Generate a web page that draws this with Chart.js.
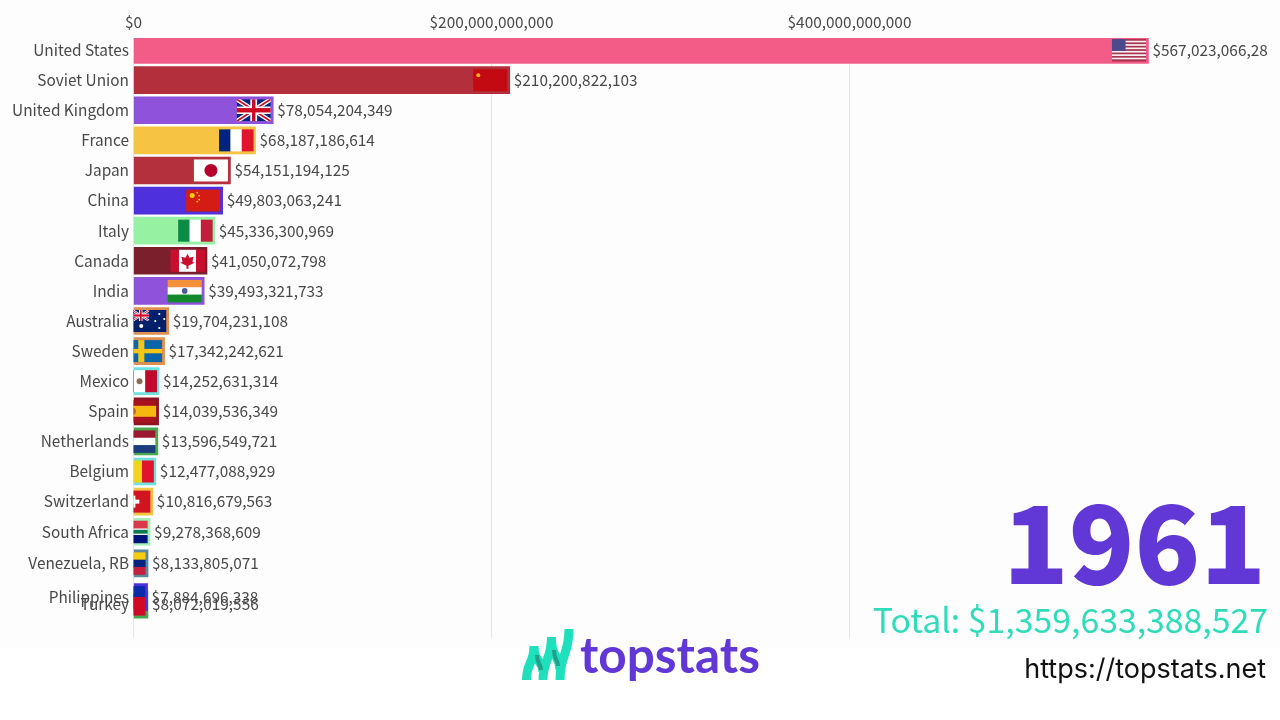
<!DOCTYPE html>
<html>
<head>
<meta charset="utf-8">
<title>GDP by country, 1961</title>
<script src="https://cdn.jsdelivr.net/npm/chart.js@4"></script>
<style>
  html, body { margin: 0; padding: 0; background: #fff; }
  #stage { position: relative; width: 1280px; height: 720px; overflow: hidden; background: #fff; font-family: "Noto Sans CJK SC", sans-serif; }
  #plot-bg { position: absolute; left: 0; top: 0; width: 1280px; height: 648px; background: #fdfdfd; }
  #chart { position: absolute; left: 0; top: 0; }
  #year { position: absolute; right: 14px; top: 467px; font-size: 108px; line-height: 140px; font-weight: 900; color: #6137d6; }
  #total { position: absolute; right: 12px; top: 592px; font-size: 33.8px; line-height: 54px; font-weight: 400; color: #2fdcb9; white-space: nowrap; }
  #brand { position: absolute; left: 580px; top: 622px; font-family: Lato, sans-serif; font-size: 49.5px; line-height: 64px; font-weight: 700; color: #6137d6; }
  #url { position: absolute; right: 14px; top: 652px; font-family: Inter, sans-serif; font-size: 27px; line-height: 34px; color: #111; white-space: nowrap; }
  #mark { position: absolute; left: 0; top: 0; }
</style>
</head>
<body>
<div id="stage">
  <div id="plot-bg"></div>
  <canvas id="chart" width="1280" height="648"></canvas>
  <div id="year">1961</div>
  <div id="total">Total: $1,359,633,388,527</div>
  <svg id="mark" width="1280" height="720" fill="none">
    <path d="M526.5 680C526.5 662 534 664 534 646" stroke="#1fe0bd" stroke-width="9"/>
    <path d="M543 680C543 660 551.5 660 551.5 637" stroke="#1fe0bd" stroke-width="9"/>
    <path d="M560 680C560 655 569 655 569 629" stroke="#1fe0bd" stroke-width="9"/>
    <path d="M534 648C534 662 543 660 543 672" stroke="#1fe0bd" stroke-width="9"/>
    <path d="M551.5 640C551.5 658 560 655 560 670" stroke="#1fe0bd" stroke-width="9"/>
    <path d="M537 655C537 664 541 664 541 670" stroke="#1f9f8c" stroke-width="4"/>
    <path d="M554 650C554 660 558 660 558 666" stroke="#1f9f8c" stroke-width="4"/>
  </svg>
  <div id="brand">topstats</div>
  <div id="url">https://topstats.net</div>
</div>

<script>
// ── Data ─────────────────────────────────────────────────
const countries = ['United States', 'Soviet Union', 'United Kingdom', 'France', 'Japan', 'China', 'Italy', 'Canada', 'India', 'Australia', 'Sweden', 'Mexico', 'Spain', 'Netherlands', 'Belgium', 'Switzerland', 'South Africa', 'Venezuela, RB', 'Turkey', 'Philippines'];
const gdpValues = [567023066280, 210200822103, 78054204349, 68187186614, 54151194125, 49803063241, 45336300969, 41050072798, 39493321733, 19704231108, 17342242621, 14252631314, 14039536349, 13596549721, 12477088929, 10816679563, 9278368609, 8133805071, 8072019556, 7884696338];
// Rank is fractional at the bottom: the race is caught mid swap
const ranks = [0, 1, 2, 3, 4, 5, 6, 7, 8, 9, 10, 11, 12, 13, 14, 15, 16, 17.05, 18.42, 18.17];
const barColors = ['#f25c87', '#b32f3b', '#8f52da', '#f6c343', '#b4303d', '#4e30dc', '#96f2a2', '#7b1f2c', '#8f52da', '#e08f50', '#e08f50', '#6fdfe0', '#8c1422', '#46a950', '#6fdfe0', '#f6c343', '#a2eeb4', '#5a8a9c', '#46a950', '#4e30dc'];
const xTickValues = [0, 200000000000, 400000000000];

const money = v => '$' + Math.round(v).toLocaleString('en-US');
const LABEL_FONT = '"Noto Sans CJK SC"', LABEL_SIZE = 15.4, LABEL_COLOR = '#484848';

// ── Flags ────────────────────────────────────────────────
const FLAG_W = 34, FLAG_H = 22, FLAG_INSET = 2.5;
const RED = '#cc0a22', BLUE = '#00247d', WHITE = '#fff';

function stripes(colors, vertical, weights) {
  return (c, x, y, w, h) => {
    const total = (weights || colors.map(() => 1)).reduce((a, b) => a + b, 0);
    let pos = 0;
    colors.forEach((col, i) => {
      const part = (weights ? weights[i] : 1) / total;
      c.fillStyle = col;
      if (vertical) c.fillRect(x + pos * w, y, part * w + 0.5, h);
      else c.fillRect(x, y + pos * h, w, part * h + 0.5);
      pos += part;
    });
  };
}

function union(c, x, y, w, h) {
  c.save();
  c.beginPath(); c.rect(x, y, w, h); c.clip();
  c.fillStyle = BLUE; c.fillRect(x, y, w, h);
  const lines = (col, lw) => {
    c.strokeStyle = col; c.lineWidth = lw;
    c.beginPath();
    c.moveTo(x, y); c.lineTo(x + w, y + h);
    c.moveTo(x + w, y); c.lineTo(x, y + h);
    c.stroke();
  };
  lines(WHITE, h * 0.2); lines(RED, h * 0.08);
  c.fillStyle = WHITE;
  c.fillRect(x + w * 0.4, y, w * 0.2, h); c.fillRect(x, y + h * 0.33, w, h * 0.34);
  c.fillStyle = RED;
  c.fillRect(x + w * 0.45, y, w * 0.1, h); c.fillRect(x, y + h * 0.4, w, h * 0.2);
  c.restore();
}

function dot(c, x, y, r, col) {
  c.fillStyle = col;
  c.beginPath(); c.arc(x, y, r, 0, Math.PI * 2); c.fill();
}

const flags = {
  'United States'(c, x, y, w, h) {
    stripes(Array.from({ length: 13 }, (_, i) => i % 2 ? '#f6f2f4' : '#a8324f'))(c, x, y, w, h);
    c.fillStyle = '#4a4a8c'; c.fillRect(x, y, w * 0.4, h * 0.54);
  },
  'Soviet Union'(c, x, y, w, h) {
    c.fillStyle = '#c30a12'; c.fillRect(x, y, w, h);
    dot(c, x + 5, y + 6, 2, '#f0b020');
  },
  'United Kingdom': union,
  France: stripes([BLUE, WHITE, '#e0142c'], true),
  Japan(c, x, y, w, h) {
    c.fillStyle = WHITE; c.fillRect(x, y, w, h);
    dot(c, x + w / 2, y + h / 2, 6.5, '#b4002c');
  },
  China(c, x, y, w, h) {
    c.fillStyle = '#d41c14'; c.fillRect(x, y, w, h);
    dot(c, x + 6, y + 6, 2.5, '#ffd000');
    [[11, 3], [13, 6], [13, 10], [11, 12]].forEach(p => dot(c, x + p[0], y + p[1], 0.9, '#ffd000'));
  },
  Italy: stripes(['#0a8c46', WHITE, '#c2203a'], true),
  Canada(c, x, y, w, h) {
    stripes(['#c8102e', WHITE, '#c8102e'], true, [1, 2, 1])(c, x, y, w, h);
    c.fillStyle = '#c8102e';
    c.beginPath();
    const cx = x + w / 2, cy = y + h / 2;
    [[0, -7], [2, -3], [6, -4], [5, 1], [7, 2], [1, 5], [1, 8], [-1, 8], [-1, 5], [-7, 2], [-5, 1], [-6, -4], [-2, -3]]
      .forEach((p, i) => i ? c.lineTo(cx + p[0], cy + p[1]) : c.moveTo(cx + p[0], cy + p[1]));
    c.closePath(); c.fill();
  },
  India(c, x, y, w, h) {
    stripes(['#f4913a', WHITE, '#138a2c'])(c, x, y, w, h);
    dot(c, x + w / 2, y + h / 2, 2.8, '#4a5aa0');
  },
  Australia(c, x, y, w, h) {
    c.fillStyle = '#00206c'; c.fillRect(x, y, w, h);
    union(c, x, y, w * 0.5, h * 0.5);
    dot(c, x + 9, y + 16, 2, WHITE);
    [[27, 4], [32, 9], [23, 11], [27, 18]].forEach(p => dot(c, x + p[0], y + p[1], 1.1, WHITE));
  },
  Sweden(c, x, y, w, h) {
    c.fillStyle = '#0a66a8'; c.fillRect(x, y, w, h);
    c.fillStyle = '#f5c518';
    c.fillRect(x + w * 0.3, y, w * 0.18, h); c.fillRect(x, y + h * 0.4, w, h * 0.2);
  },
  Mexico(c, x, y, w, h) {
    stripes(['#0a6a48', WHITE, '#c00a2c'], true)(c, x, y, w, h);
    dot(c, x + w / 2, y + h / 2, 3, '#8a7058');
  },
  Spain(c, x, y, w, h) {
    stripes(['#a8121e', '#f5b810', '#a8121e'], false, [1, 2, 1])(c, x, y, w, h);
    dot(c, x + w * 0.3, y + h / 2, 3.5, '#b06a20');
  },
  Netherlands: stripes(['#9c1a30', WHITE, '#1c3c80']),
  Belgium: stripes(['#111', '#f5d21c', '#e0142c'], true),
  Switzerland(c, x, y, w, h) {
    c.fillStyle = '#d01420'; c.fillRect(x, y, w, h);
    c.fillStyle = WHITE;
    c.fillRect(x + w / 2 - 6, y + h / 2 - 2, 12, 4);
    c.fillRect(x + w / 2 - 2, y + h / 2 - 6, 4, 12);
  },
  'South Africa': stripes(['#d8384a', WHITE, '#0a7a50', WHITE, '#00147c'], false, [6, 1, 3, 1, 6]),
  'Venezuela, RB': stripes(['#f5cc10', '#00247d', '#c4203e']),
  Turkey(c, x, y, w, h) {
    c.fillStyle = '#d00a24'; c.fillRect(x, y, w, h);
  },
  Philippines: stripes(['#0a2ca8', '#d00a24']),
};

// ── Plugins ──────────────────────────────────────────────
const barExtras = {
  id: 'barExtras',
  afterDatasetsDraw(chart) {
    const { ctx, chartArea } = chart;
    const bars = chart.getDatasetMeta(0).data;
    ctx.save();
    ctx.beginPath();
    ctx.rect(chartArea.left, 0, chartArea.right - chartArea.left, chart.height);
    ctx.clip();
    bars.forEach((bar, i) => {
      const x = bar.x - FLAG_INSET - FLAG_W;
      flags[countries[i]](ctx, x, bar.y - FLAG_H / 2, FLAG_W, FLAG_H);
    });
    ctx.font = LABEL_SIZE + 'px ' + LABEL_FONT;
    ctx.fillStyle = LABEL_COLOR;
    ctx.textBaseline = 'middle';
    bars.forEach((bar, i) => ctx.fillText(money(gdpValues[i]), bar.x + 4, bar.y));
    ctx.restore();
  },
};

// ── Chart ────────────────────────────────────────────────
new Chart(document.getElementById('chart'), {
  type: 'bar',
  data: {
    datasets: [{
      data: gdpValues.map((v, i) => ({ x: v, y: ranks[i] })),
      backgroundColor: barColors,
      barThickness: 27,
    }],
  },
  plugins: [barExtras],
  options: {
    indexAxis: 'y',
    responsive: false,
    animation: false,
    layout: { padding: { right: 12, bottom: 10 } },
    plugins: { legend: { display: false }, tooltip: { enabled: false } },
    scales: {
      x: {
        type: 'linear',
        position: 'top',
        bounds: 'data',
        min: 0,
        max: 633800000000,
        border: { display: false },
        grid: { color: '#e6e6e6', lineWidth: 1, drawTicks: false },
        ticks: { color: LABEL_COLOR, font: { family: LABEL_FONT, size: LABEL_SIZE }, padding: 7, maxRotation: 0, autoSkip: false, callback: v => money(v) },
        afterBuildTicks: s => { s.ticks = xTickValues.map(value => ({ value })); },
        afterFit: s => { s.height = 38; s.paddingLeft = 0; s.paddingRight = 0; },
      },
      y: {
        type: 'linear',
        reverse: true,
        offset: false, // bar charts turn this on for the index axis
        bounds: 'data',
        min: -0.4,
        max: 19.53,
        border: { display: false },
        grid: { display: false, drawTicks: false },
        ticks: { color: LABEL_COLOR, font: { family: LABEL_FONT, size: LABEL_SIZE }, padding: 4.5, autoSkip: false, callback: (v, i) => countries[i] },
        afterBuildTicks: s => { s.ticks = ranks.map(value => ({ value })); },
        afterFit: s => { s.width = 133.5; s.paddingTop = 0; s.paddingBottom = 0; },
      },
    },
  },
});
</script>
</body>
</html>
